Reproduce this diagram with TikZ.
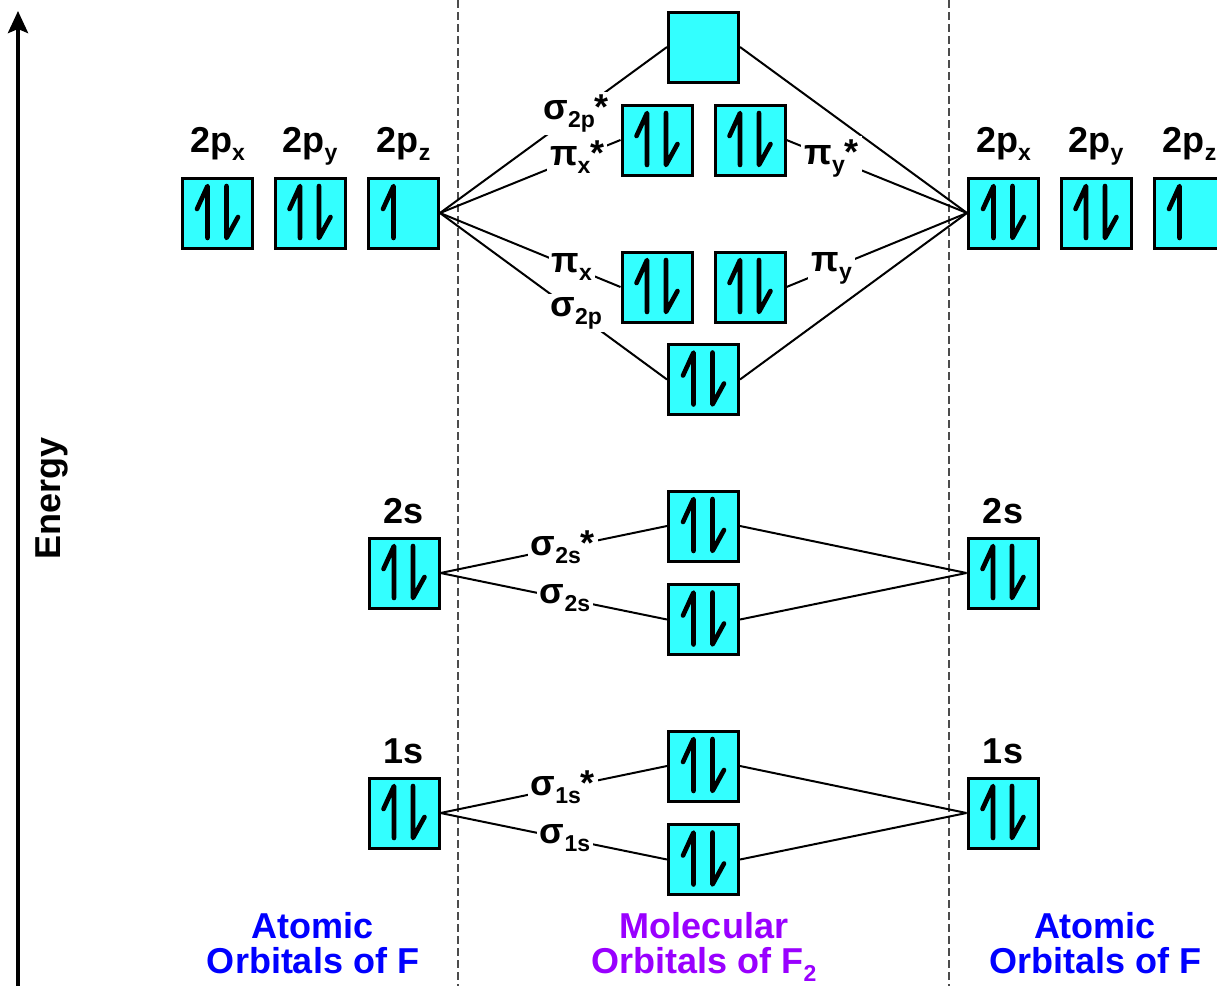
\documentclass[tikz,border=0pt]{standalone}
\usepackage{fontspec}
\setmainfont{Liberation Sans}
\usetikzlibrary{arrows.meta, positioning}
\definecolor{orbcyan}{RGB}{51,255,255}
\definecolor{moviolet}{RGB}{153,0,255}
\newcommand{\orbsub}[1]{\raisebox{-4pt}{\fontsize{11.5}{11.5}\selectfont #1}}

\begin{document}
\begin{tikzpicture}[x=0.5pt, y=-0.5pt, >=Stealth,
    font=\fontsize{18}{17.5}\selectfont\bfseries,
    orb/.style={rectangle, draw, line width=1.5pt, fill=orbcyan, minimum size=35pt, inner sep=0pt},
    spin/.style={line width=2.3pt, line cap=round, line join=round},
    single/.style={orb, path picture={
        \draw[spin] ([shift={(-10.25pt,2pt)}]path picture bounding box.center) -- ++(5.25pt,11.5pt) -- ++(0,-26pt);}},
    paired/.style={orb, path picture={
        \draw[spin] ([shift={(-10.25pt,2pt)}]path picture bounding box.center) -- ++(5.25pt,11.5pt) -- ++(0,-26pt);
        \draw[spin] ([shift={(4.5pt,13.5pt)}]path picture bounding box.center) -- ++(0,-26pt) -- ++(5.75pt,10.5pt);}},
    conn/.style={line width=1pt},
    mo/.style={fill=white, inner sep=1.5pt},
    sep/.style={line width=1pt, black!70, dash pattern=on 4pt off 2pt}]
  \useasboundingbox (0,0) rectangle (1217,986);

  % energy axis and separators
  \coordinate (Ebot) at (18,986);
  \coordinate (Etop) at (18,11);
  \draw[line width=2pt, -{Stealth[length=11pt, width=10pt, inset=2pt]}] (Ebot) -- (Etop);
  \node[rotate=90] (energy) at (52,498) {Energy};
  \coordinate (sepLtop) at (458,0);
  \coordinate (sepLbot) at (458,986);
  \coordinate (sepRtop) at (948.5,0);
  \coordinate (sepRbot) at (948.5,986);
  \draw[sep] (sepLtop) -- (sepLbot);
  \draw[sep] (sepRtop) -- (sepRbot);

  % atomic orbitals, left
  \node[paired] (L2px) at (217.5,213) {};
  \node[paired] (L2py) at (310,213) {};
  \node[single] (L2pz) at (403.5,213) {};
  \node[paired] (L2s) at (404,573) {};
  \node[paired] (L1s) at (404,813) {};

  % molecular orbitals
  \node[orb] (s2ps) at (703.5,47) {};
  \node[paired] (pxs) at (657,140) {};
  \node[paired] (pys) at (750,140) {};
  \node[paired] (px) at (657,287) {};
  \node[paired] (py) at (750,287) {};
  \node[paired] (s2p) at (703.5,379.5) {};
  \node[paired] (s2ss) at (703.5,526) {};
  \node[paired] (s2s) at (703.5,619.5) {};
  \node[paired] (s1ss) at (703.5,766) {};
  \node[paired] (s1s) at (703.5,859.5) {};

  % atomic orbitals, right
  \node[paired] (R2px) at (1003.5,213) {};
  \node[paired] (R2py) at (1096,213) {};
  \node[single] (R2pz) at (1189.5,213) {};
  \node[paired] (R2s) at (1003,573) {};
  \node[paired] (R1s) at (1003,813) {};

  % level names
  \node[anchor=base] (L2pxname) at ([yshift=12pt]L2px.north) {2p\orbsub{x}};
  \node[anchor=base] (L2pyname) at ([yshift=12pt]L2py.north) {2p\orbsub{y}};
  \node[anchor=base] (L2pzname) at ([yshift=12pt]L2pz.north) {2p\orbsub{z}};
  \node[anchor=base] (L2sname) at ([yshift=6.5pt]L2s.north) {2s};
  \node[anchor=base] (L1sname) at ([yshift=6.5pt]L1s.north) {1s};
  \node[anchor=base] (R2pxname) at ([yshift=12pt]R2px.north) {2p\orbsub{x}};
  \node[anchor=base] (R2pyname) at ([yshift=12pt]R2py.north) {2p\orbsub{y}};
  \node[anchor=base] (R2pzname) at ([yshift=12pt]R2pz.north) {2p\orbsub{z}};
  \node[anchor=base] (R2sname) at ([yshift=6.5pt]R2s.north) {2s};
  \node[anchor=base] (R1sname) at ([yshift=6.5pt]R1s.north) {1s};

  % correlation lines
  \draw[conn] (L2pz.east) -- node[mo, pos=0.6] {σ\orbsub{2p}*} (s2ps.west);
  \draw[conn] (L2pz.east) -- node[mo, pos=0.76] {π\orbsub{x}*} (pxs.west);
  \draw[conn] (L2pz.east) -- node[mo, pos=0.73] {π\orbsub{x}} (px.west);
  \draw[conn] (L2pz.east) -- node[mo, pos=0.6] {σ\orbsub{2p}} (s2p.west);
  \draw[conn] (s2ps.east) -- (R2px.west);
  \draw[conn] (pys.east) -- node[mo, pos=0.25] {π\orbsub{y}*} (R2px.west);
  \draw[conn] (py.east) -- node[mo, pos=0.25] {π\orbsub{y}} (R2px.west);
  \draw[conn] (s2p.east) -- (R2px.west);

  \draw[conn] (L2s.east) -- node[mo, pos=0.54] {σ\orbsub{2s}*} (s2ss.west);
  \draw[conn] (L2s.east) -- node[mo, pos=0.55] {σ\orbsub{2s}} (s2s.west);
  \draw[conn] (s2ss.east) -- (R2s.west);
  \draw[conn] (s2s.east) -- (R2s.west);

  \draw[conn] (L1s.east) -- node[mo, pos=0.54] {σ\orbsub{1s}*} (s1ss.west);
  \draw[conn] (L1s.east) -- node[mo, pos=0.55] {σ\orbsub{1s}} (s1s.west);
  \draw[conn] (s1ss.east) -- (R1s.west);
  \draw[conn] (s1s.east) -- (R1s.west);

  % captions
  \node[blue, align=center, anchor=base] (capL) at (313,973) {Atomic\\Orbitals of F};
  \node[moviolet, align=center, anchor=base] (capM) at (704,973) {Molecular\\Orbitals of F\orbsub{2}};
  \node[blue, align=center, anchor=base] (capR) at (1095,973) {Atomic\\Orbitals of F};
\end{tikzpicture}
\end{document}
